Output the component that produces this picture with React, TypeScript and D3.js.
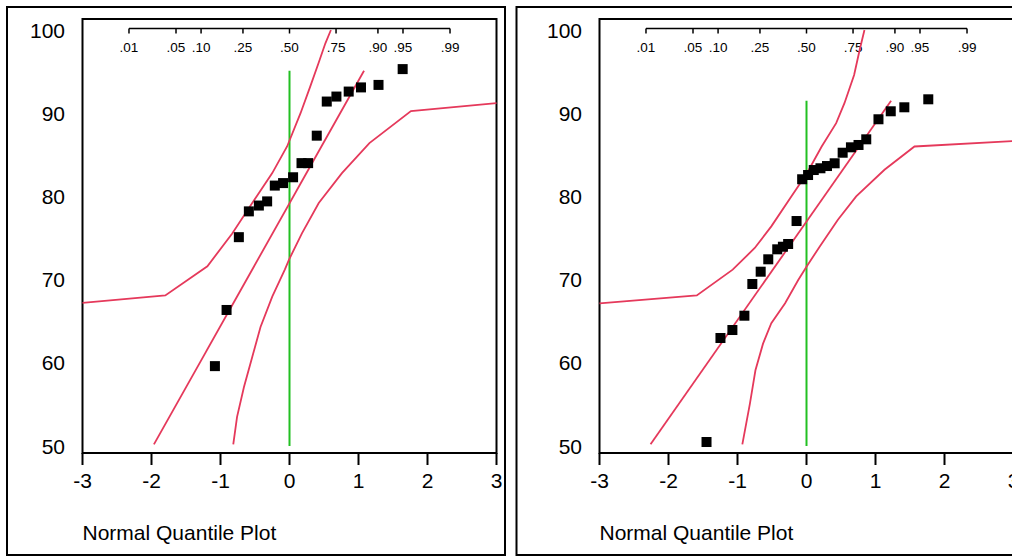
import React from "react";
import * as d3 from "d3";

// axis ticks
const yTicks = [50, 60, 70, 80, 90, 100];
const xTicks = [-3, -2, -1, 0, 1, 2, 3];
const probTicks = [0.01, 0.05, 0.1, 0.25, 0.5, 0.75, 0.9, 0.95, 0.99];
const probLabels = [".01", ".05", ".10", ".25", ".50", ".75", ".90", ".95", ".99"];

// left panel: [normal quantile, value]
const leftPoints = [
  [1.64, 95.3], [1.29, 93.4], [1.036, 93.1], [0.858, 92.6], [0.68, 92.0], [0.54, 91.4],
  [0.395, 87.3], [0.27, 84.0], [0.174, 84.0], [0.052, 82.3], [-0.093, 81.6], [-0.213, 81.3],
  [-0.324, 79.4], [-0.444, 78.9], [-0.589, 78.2], [-0.734, 75.1], [-0.912, 66.35], [-1.081, 59.6],
];
const leftFit = [[-1.965, 50.2], [1.08, 95.1]];
const leftUpper = [
  [-3, 67.2], [-1.8, 68.1], [-1.19, 71.6], [-0.83, 75.55], [-0.54, 79.2], [-0.25, 82.8],
  [-0.035, 86.0], [0.16, 90.0], [0.3, 93.2], [0.42, 96.0], [0.52, 98.4], [0.6, 100],
];
const leftLower = [
  [3, 91.2], [1.76, 90.26], [1.158, 86.4], [0.76, 82.8], [0.424, 79.2], [0.18, 75.55],
  [-0.01, 72.35], [-0.068, 71.2], [-0.25, 67.95], [-0.42, 64.3], [-0.54, 60.7],
  [-0.66, 57.1], [-0.76, 53.5], [-0.815, 50.2],
];
const leftMedian = [50, 95.1];

// right panel
const rightPoints = [
  [1.765, 91.67], [1.418, 90.71], [1.221, 90.23], [1.043, 89.27], [0.866, 86.86], [0.754, 86.18],
  [0.644, 85.9], [0.524, 85.25], [0.408, 83.98], [0.297, 83.65], [0.202, 83.38], [0.105, 83.17],
  [0.023, 82.57], [-0.063, 82.06], [-0.144, 77.04], [-0.266, 74.28], [-0.342, 73.95], [-0.424, 73.64],
  [-0.554, 72.44], [-0.664, 70.95], [-0.785, 69.47], [-0.9, 65.66], [-1.074, 63.94], [-1.247, 62.98],
  [-1.449, 50.48],
];
const rightFit = [[-2.26, 50.2], [1.226, 91.5]];
const rightUpper = [
  [-3, 67.15], [-1.59, 68.1], [-1.07, 71.2], [-0.75, 73.8], [-0.51, 76.4], [-0.22, 80.0],
  [0, 82.7], [0.22, 86.0], [0.43, 88.8], [0.55, 91.2], [0.69, 94.6], [0.77, 97.6], [0.84, 100],
];
const rightLower = [
  [3, 86.65], [1.565, 86.0], [1.13, 83.2], [0.72, 80.0], [0.455, 77.2], [0.19, 73.95],
  [0, 71.55], [-0.12, 69.95], [-0.31, 67.15], [-0.51, 64.75], [-0.63, 62.3], [-0.74, 59.1],
  [-0.82, 55.1], [-0.93, 50.2],
];
const rightMedian = [50, 91.5];

const RED = "#e5395b";
const GREEN = "#22c022";
const FONT = "'Liberation Sans', Arial, sans-serif";

// inverse normal cdf (Acklam) for the probability axis
function probit(p: number) {
  const a = [-39.69683028665376, 220.9460984245205, -275.9285104469687, 138.357751867269, -30.66479806614716, 2.506628277459239];
  const b = [-54.47609879822406, 161.5858368580409, -155.6989798598866, 66.80131188771972, -13.28068155328972];
  const c = [-0.007784894002430293, -0.3223964580411365, -2.400758277161838, -2.549732539343734, 4.374664141464968, 2.938163982698783];
  const d = [0.007784695709041462, 0.3224671290700398, 2.445134137142996, 3.754408661907416];
  const lo = 0.02425;
  if (p < lo || p > 1 - lo) {
    const q = Math.sqrt(-2 * Math.log(p < lo ? p : 1 - p));
    const v = (((((c[0] * q + c[1]) * q + c[2]) * q + c[3]) * q + c[4]) * q + c[5]) /
      ((((d[0] * q + d[1]) * q + d[2]) * q + d[3]) * q + 1);
    return p < lo ? v : -v;
  }
  const q = p - 0.5, r = q * q;
  return (((((a[0] * r + a[1]) * r + a[2]) * r + a[3]) * r + a[4]) * r + a[5]) * q /
    (((((b[0] * r + b[1]) * r + b[2]) * r + b[3]) * r + b[4]) * r + 1);
}

function Panel({ outerX, left, points, fit, upper, lower, median }) {
  const top = 19, axisY = 453, width = 414;
  const x = d3.scaleLinear().domain([-3, 3]).range([left, left + width]);
  const y = d3.scaleLinear().domain([50, 100]).range([446, 30]);
  const line = d3.line<number[]>().x((d) => x(d[0])).y((d) => y(d[1]));
  const probY = 28.5;

  return (
    <g fontFamily={FONT}>
      <rect x={outerX} y={7} width={498} height={548} fill="none" stroke="#000" strokeWidth={2} />
      <rect x={left} y={top} width={width} height={axisY - top} fill="none" stroke="#000" strokeWidth={2} />

      {/* probability axis */}
      <line x1={x(probit(0.01))} x2={x(probit(0.99))} y1={probY} y2={probY} stroke="#000" strokeWidth={1.5} />
      {probTicks.map((p, i) => (
        <g key={p}>
          <line x1={x(probit(p))} x2={x(probit(p))} y1={probY} y2={probY + 5} stroke="#000" strokeWidth={1.5} />
          <text x={x(probit(p))} y={52} fontSize={13.5} textAnchor="middle">{probLabels[i]}</text>
        </g>
      ))}

      {/* y labels */}
      {yTicks.map((t) => (
        <text key={t} x={left - 17.5} y={y(t)} dy="0.36em" fontSize={21} textAnchor="end">{t}</text>
      ))}

      {/* x axis */}
      {xTicks.map((t) => (
        <g key={t}>
          <line x1={x(t)} x2={x(t)} y1={axisY} y2={axisY + 12} stroke="#000" strokeWidth={2} />
          <text x={x(t)} y={axisY + 34.5} fontSize={21} textAnchor="middle">{t}</text>
        </g>
      ))}

      <line x1={x(0)} x2={x(0)} y1={y(median[0])} y2={y(median[1])} stroke={GREEN} strokeWidth={2} />
      <path d={line(upper) ?? ""} fill="none" stroke={RED} strokeWidth={1.8} />
      <path d={line(lower) ?? ""} fill="none" stroke={RED} strokeWidth={1.8} />
      <path d={line(fit) ?? ""} fill="none" stroke={RED} strokeWidth={1.8} />

      {points.map((d, i) => (
        <rect key={i} x={x(d[0]) - 5} y={y(d[1]) - 5} width={10} height={10} fill="#000" />
      ))}

      <text x={left} y={540} fontSize={21}>Normal Quantile Plot</text>
    </g>
  );
}

export default function App() {
  return (
    <svg width={1012} height={557} style={{ position: "absolute", left: 0, top: 0, background: "#fff" }}>
      <rect width={1012} height={557} fill="#fff" />
      <Panel outerX={7} left={82.5} points={leftPoints} fit={leftFit} upper={leftUpper} lower={leftLower} median={leftMedian} />
      <Panel outerX={516.5} left={599.5} points={rightPoints} fit={rightFit} upper={rightUpper} lower={rightLower} median={rightMedian} />
    </svg>
  );
}
